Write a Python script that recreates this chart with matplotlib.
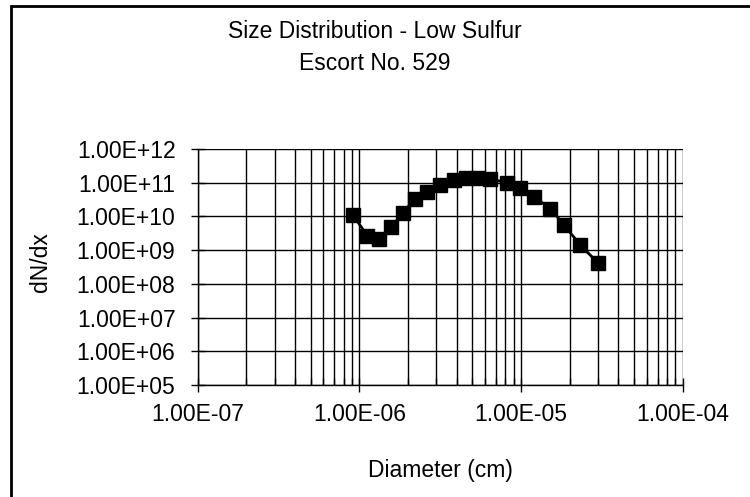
import matplotlib
matplotlib.use("Agg")
import matplotlib.pyplot as plt
from matplotlib.patches import Rectangle
from matplotlib.ticker import LogLocator, NullFormatter, FixedLocator

plt.rcParams['font.family'] = ['Liberation Sans', 'DejaVu Sans']

# Particle size distribution, low sulfur fuel, Escort No. 529
diameter_cm = [9.14e-7, 1.12e-6, 1.32e-6, 1.58e-6, 1.86e-6, 2.22e-6, 2.63e-6,
               3.17e-6, 3.83e-6, 4.59e-6, 5.45e-6, 6.46e-6, 8.18e-6, 9.9e-6,
               1.21e-5, 1.52e-5, 1.85e-5, 2.33e-5, 2.98e-5]
dn_dx = [1.1e10, 2.7e9, 2.2e9, 4.9e9, 1.29e10, 3.4e10, 5.4e10, 8.5e10,
         1.19e11, 1.35e11, 1.4e11, 1.3e11, 1.0e11, 6.8e10, 3.8e10, 1.7e10,
         5.5e9, 1.4e9, 4.3e8]

x_ticks = [1e-7, 1e-6, 1e-5, 1e-4]
x_tick_labels = ["1.00E-07", "1.00E-06", "1.00E-05", "1.00E-04"]
y_ticks = [1e5, 1e6, 1e7, 1e8, 1e9, 1e10, 1e11, 1e12]
y_tick_labels = ["1.00E+05", "1.00E+06", "1.00E+07", "1.00E+08",
                 "1.00E+09", "1.00E+10", "1.00E+11", "1.00E+12"]

W, H = 750, 497
FS = 16.5
fig = plt.figure(figsize=(W / 100, H / 100), dpi=100)
fig.patch.set_facecolor("white")

# plot area in pixels: left, top, right, bottom
L, T, R, B = 197.6, 149, 682.7, 385
ax = fig.add_axes([L / W, 1 - B / H, (R - L) / W, (B - T) / H])

ax.set_xscale("log")
ax.set_yscale("log")
ax.set_xlim(1e-7, 1e-4)
ax.set_ylim(1e5, 1e12)

ax.xaxis.set_major_locator(FixedLocator(x_ticks))
ax.set_xticklabels(x_tick_labels)
ax.xaxis.set_minor_locator(LogLocator(base=10, subs=range(2, 10)))
ax.xaxis.set_minor_formatter(NullFormatter())
ax.yaxis.set_major_locator(FixedLocator(y_ticks))
ax.set_yticklabels(y_tick_labels)
ax.yaxis.set_minor_locator(FixedLocator([]))

ax.grid(True, which="major", axis="both", color="black", linewidth=1.0)
ax.grid(True, which="minor", axis="x", color="black", linewidth=1.0)
ax.set_axisbelow(True)

for side in ["top", "right"]:
    ax.spines[side].set_visible(False)
for side in ["left", "bottom"]:
    ax.spines[side].set_linewidth(1.0)
    ax.spines[side].set_color("black")

ax.tick_params(axis="both", which="major", direction="inout", length=10,
               width=1.0, labelsize=FS, colors="black")
ax.tick_params(axis="y", which="major", pad=11)
ax.tick_params(axis="x", which="major", pad=8)
ax.tick_params(axis="x", which="minor", direction="in", length=5, width=1.0)

ax.plot(diameter_cm, dn_dx, color="black", linewidth=2.0, marker="s",
        markersize=9.8, markerfacecolor="black", markeredgecolor="black",
        clip_on=False, zorder=5)

ax.set_xlabel("Diameter (cm)", fontsize=FS)
ax.set_ylabel("dN/dx", fontsize=FS)
ax.xaxis.set_label_coords(0.5, (B - 459) / (B - T))
ax.yaxis.set_label_coords((52 - L) / (R - L), (B - 262) / (B - T))

fig.text(375 / W, 1 - 31 / H, "Size Distribution - Low Sulfur", ha="center",
         va="center", fontsize=FS)
fig.text(375 / W, 1 - 63 / H, "Escort No. 529", ha="center", va="center",
         fontsize=FS)

# chart frame (left and top edges visible)
fig.patches.append(Rectangle((11 / W, -0.05), 1.2, 1 - 5.5 / H + 0.05,
                             transform=fig.transFigure, fill=False,
                             edgecolor="black", linewidth=2.0))

fig.savefig("out.png", dpi=100, facecolor="white")
